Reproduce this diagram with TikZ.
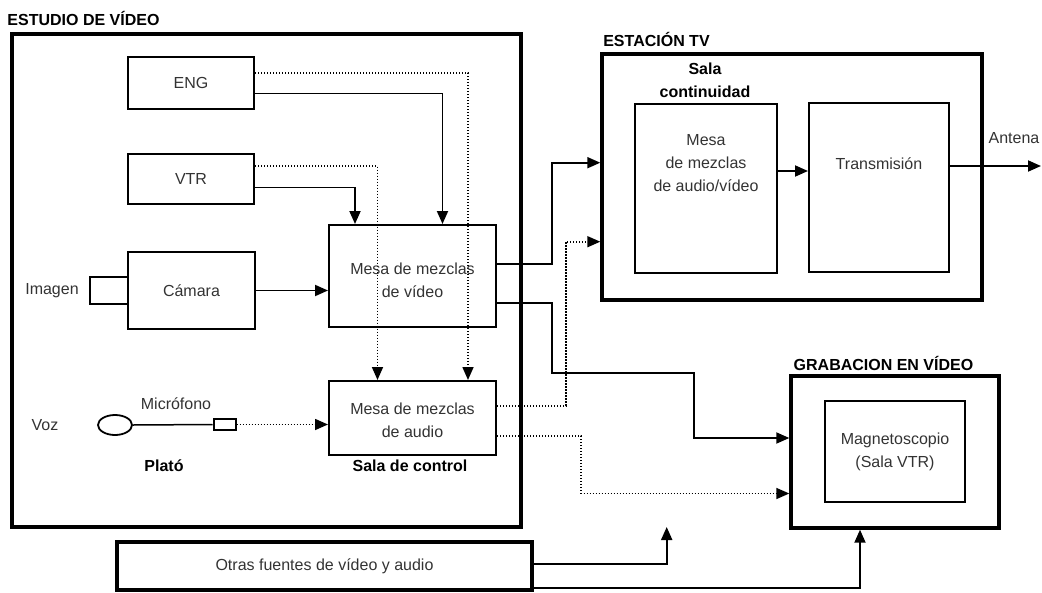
\documentclass[tikz,border=0pt]{standalone}
\usepackage{fontspec}
\setmainfont{Liberation Sans}
\usetikzlibrary{arrows.meta,shapes.geometric}
\begin{document}
\begin{tikzpicture}[x=1pt,y=-1pt,
  frame/.style={draw, line width=3.4pt, inner sep=0pt},
  blk/.style={draw, line width=2pt, inner sep=0pt, font=\fontsize{16}{23}\selectfont, text=black!80, align=center},
  lbl/.style={font=\fontsize{16}{23}\selectfont, text=black!80, align=center, inner sep=0pt},
  ttl/.style={font=\bfseries\fontsize{16}{23}\selectfont, align=center, inner sep=0pt},
  tip/.style={-{Triangle[length=13pt,width=11pt]}},
  conn/.style={line width=1.9pt, tip},
  wire/.style={line width=1.5pt},
  dots/.style={line width=1.6pt, dash pattern=on 1.4pt off 1.6pt},
  dotarr/.style={dots, tip}
]
\useasboundingbox (0,0) rectangle (1042,592);

% frames
\node[frame, minimum width=509pt, minimum height=493pt] (studio) at (266.5,280.5) {};
\node[frame, minimum width=380pt, minimum height=246pt] (station) at (792,177) {};
\node[frame, minimum width=208pt, minimum height=152pt] (grab) at (895,452) {};
\node[frame, minimum width=415pt, minimum height=48pt, font=\fontsize{16}{23}\selectfont, text=black!80] (otras) at (324.5,566) {Otras fuentes de vídeo y audio};

% titles
\node[ttl] (tstudio) at (83.5,18) {ESTUDIO DE VÍDEO};
\node[ttl] (tstation) at (656.5,39) {ESTACIÓN TV};
\node[ttl] (tgrab) at (883.5,363) {GRABACION EN VÍDEO};
\node[ttl] (tsala) at (705,80.5) {Sala\\continuidad};
\node[ttl] (tplato) at (164,466) {Plató};
\node[ttl] (tcontrol) at (410,466) {Sala de control};

% studio blocks
\node[blk, minimum width=126pt, minimum height=52pt] (eng) at (191,83) {ENG};
\node[blk, minimum width=126pt, minimum height=50pt] (vtr) at (191,179) {VTR};
\node[blk, minimum width=127pt, minimum height=77pt] (cam) at (191.5,290.5) {Cámara};
\node[blk, minimum width=37.5pt, minimum height=27pt] (lens) at (109,290.5) {};
\node[blk, minimum width=167pt, minimum height=102pt] (vmix) at (412.5,276) {};
\node[blk, minimum width=167pt, minimum height=74pt] (amix) at (412.5,418) {};
\node[draw, line width=1.8pt, ellipse, minimum width=34pt, minimum height=20pt, inner sep=0pt] (mic) at (115,425) {};
\node[blk, minimum width=22pt, minimum height=11pt] (micbox) at (224.5,424.5) {};

\node[lbl] (limagen) at (52,291) {Imagen};
\node[lbl] (lvoz) at (45,425) {Voz};
\node[lbl] (lmic) at (176,404) {Micrófono};

% station blocks
\node[blk, minimum width=142pt, minimum height=169pt] (smix) at (706,188.5) {};
\node[blk, minimum width=140pt, minimum height=169pt] (trans) at (879,187.5) {};
\node[lbl] (lant) at (1014,138) {Antena};
\coordinate (ant) at (1041,166);

% recording block
\node[blk, minimum width=140pt, minimum height=101pt] (magneto) at (895,451.5) {Magnetoscopio\\(Sala VTR)};

% connectors in studio
\draw[dotarr] ([yshift=10pt]eng.east) -| ([xshift=55.5pt]amix.north);
\draw[dotarr] ([yshift=13pt]vtr.east) -| ([xshift=-35pt]amix.north);
\draw[conn] ([yshift=-10.5pt]eng.east) -| ([xshift=30pt]vmix.north);
\draw[conn] ([yshift=-8.5pt]vtr.east) -| ([xshift=-57.5pt]vmix.north);
\draw[conn] (cam.east) -- (cam.east -| vmix.west);
\draw[wire] (mic.east) -- (micbox.west);
\draw[dotarr] (micbox.east) -- (micbox.east -| amix.west);

% outputs
\draw[conn] ([yshift=12pt]vmix.east) -- (552,264) |- ([yshift=14.3pt]station.west);
\draw[conn] ([yshift=-27pt]vmix.east) -- (552,303) -- (552,372.7) -- (694,372.7) |- ([yshift=14pt]grab.west);
\draw[dotarr] ([yshift=12.3pt]amix.east) -- (566,405.7) |- ([yshift=-64.7pt]station.west);
\draw[dotarr] ([yshift=-18pt]amix.east) -- (581,436) |- ([yshift=-41.5pt]grab.west);

% other sources
\coordinate (ofree) at (666.7,527);
\draw[conn] ([yshift=2pt]otras.east) -| (ofree);
\draw[conn] ([yshift=-22pt]otras.east) -| ([xshift=-35pt]grab.south);

% station internal
\draw[conn] ([yshift=17.5pt]smix.east) -- ([yshift=17.5pt]smix.east -| trans.west);
\draw[conn] ([yshift=21.5pt]trans.east) -- (ant);

% texts drawn over the lines
\node[lbl] (vmixt) at (412.5,280.5) {Mesa de mezclas\\de vídeo};
\node[lbl] (amixt) at (412.5,420) {Mesa de mezclas\\de audio};
\node[lbl] (smixt) at (706,163) {Mesa\\de mezclas\\de audio/vídeo};
\node[lbl] (transt) at (879,164) {Transmisión};
\end{tikzpicture}
\end{document}
